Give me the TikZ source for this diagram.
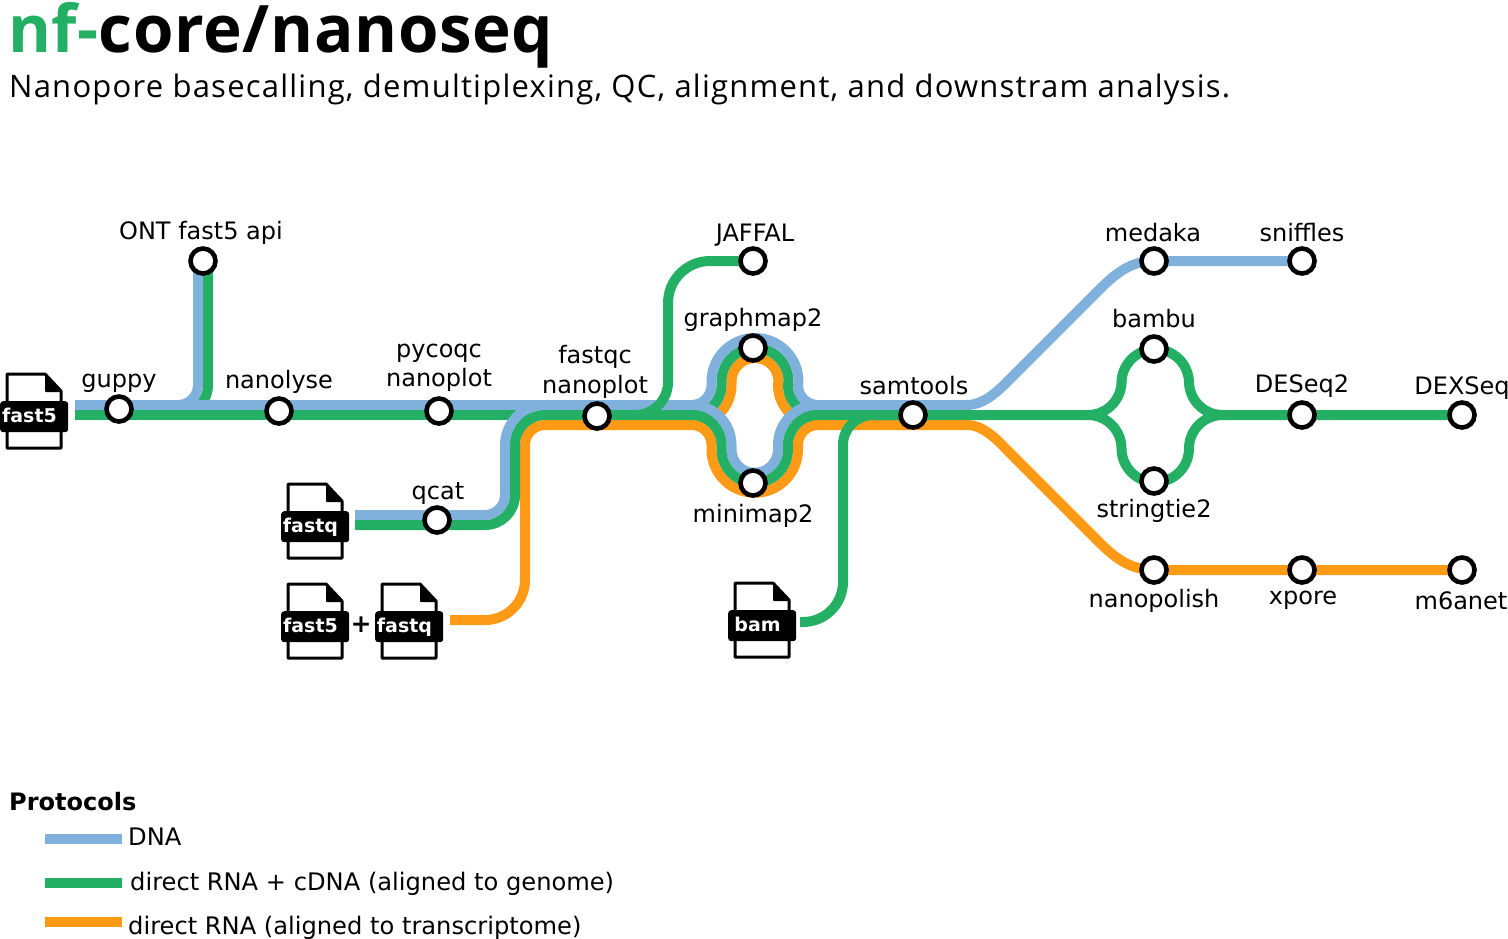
\documentclass[tikz,border=0pt]{standalone}
\usepackage{fontspec}
\setmainfont{DejaVu Sans}
\newfontfamily\titlefont[LetterSpace=1]{Open Sans}
\newfontfamily\subfont[LetterSpace=3.95]{Open Sans}
\definecolor{lblue}{HTML}{7FB1DC}
\definecolor{lgreen}{HTML}{24B064}
\definecolor{lorange}{HTML}{FF9A17}
\tikzset{
  route/.style={line width=10pt,line cap=butt,line join=round},
  blue route/.style={route,draw=lblue},
  green route/.style={route,draw=lgreen},
  orange route/.style={route,draw=lorange},
  station/.style={circle,draw=black,fill=white,line width=4.6pt,minimum size=25pt,inner sep=0pt},
  lab/.style={font=\fontsize{24}{29.5}\selectfont,align=center,inner sep=0pt,text=black},
  legendtext/.style={font=\fontsize{24.15}{29}\selectfont,anchor=west,inner sep=0pt,text=black},
  fileicon/.pic={
    \draw[line width=3pt,line join=round,fill=white] (7,-27) -- (45,-27) -- (61,-10) -- (61,47) -- (7,47) -- cycle;
    \fill[black,rounded corners=1pt] (45,-27) -- (62,-9) -- (45,-9) -- cycle;
    \node[fill=black,rounded corners=3pt,minimum width=68pt,minimum height=31pt,inner sep=0pt,anchor=north west] (-box) at (0,0) {};
    \node[anchor=base,inner sep=0pt,text=white,font=\fontsize{19}{19}\selectfont\bfseries] (-txt) at (29.5,21) {#1};
  }
}
\begin{document}
\begin{tikzpicture}[x=1pt,y=-1pt]
\useasboundingbox (0,0) rectangle (1508,938);
% title
\node[anchor=base west,inner sep=0pt,font=\fontsize{65.5}{66}\selectfont\titlefont\bfseries] (title) at (8,52) {\textcolor{lgreen}{nf-}core/nanoseq};
\node[anchor=base west,inner sep=0pt,font=\fontsize{31}{34}\selectfont\subfont] (subtitle) at (9,97) {Nanopore basecalling, demultiplexing, QC, alignment, and downstram analysis.};
% stations
\path
 (119,409) coordinate (guppy) (203,261) coordinate (ont) (279,411) coordinate (nanolyse) (439,411) coordinate (pycoqc)
 (597,416) coordinate (fastqc) (437,520) coordinate (qcat) (753,261) coordinate (jaffal) (753,348) coordinate (graphmap)
 (753,483) coordinate (minimap) (913,415) coordinate (samtools) (1154,261) coordinate (medaka) (1302,261) coordinate (sniffles)
 (1154,349) coordinate (bambu) (1154,481) coordinate (stringtie) (1302,415) coordinate (deseq) (1462,415) coordinate (dexseq)
 (1154,570) coordinate (nanopolish) (1302,570) coordinate (xpore) (1462,570) coordinate (msix);
% upper bypass
\draw[orange route] (691.5,425) arc[start angle=270,end angle=360,radius=40pt] -- (731.5,381.5) arc[start angle=180,end angle=0,radius=23.5pt] -- (778,385) arc[start angle=180,end angle=270,radius=40pt];
\draw[green route] (691.5,415) arc[start angle=270,end angle=360,radius=30pt] -- (721.5,381.5) arc[start angle=180,end angle=0,radius=33.5pt] -- (788,385) arc[start angle=180,end angle=270,radius=30pt];
\draw[blue route] (691.5,405) arc[start angle=270,end angle=360,radius=20pt] -- (711.5,381.5) arc[start angle=180,end angle=0,radius=43.5pt] -- (798,385) arc[start angle=180,end angle=270,radius=20pt];
% ONT branch
\draw[green route] (208,261) -- (208,385) arc[start angle=0,end angle=-90,radius=30pt];
\draw[blue route] (198,261) -- (198,385) arc[start angle=0,end angle=-90,radius=20pt];
% main line
\draw[green route] (75,415) -- (530,415);
\draw[blue route] (75,405) -- (545,405);
% long routes
\draw[orange route] (450,620) -- (485,620) arc[start angle=270,end angle=360,radius=40pt] -- (525,445) arc[start angle=180,end angle=90,radius=20pt] -- (691.5,425) arc[start angle=90,end angle=0,radius=20pt] -- (711.5,449.5) arc[start angle=180,end angle=360,radius=43.25pt] -- (798,445) arc[start angle=180,end angle=90,radius=20pt] -- (967,425) .. controls (985,425) and (1000,443) .. (1012,455) -- (1097,540) .. controls (1112,555) and (1128,570) .. (nanopolish) -- (msix);
\draw[blue route] (355,515) -- (485,515) arc[start angle=270,end angle=360,radius=20pt] -- (505,445) arc[start angle=180,end angle=90,radius=40pt] -- (691.5,405) arc[start angle=90,end angle=0,radius=40pt] -- (731.5,449.5) arc[start angle=180,end angle=360,radius=23.25pt] -- (778,445) arc[start angle=180,end angle=90,radius=40pt] -- (967,405) .. controls (985,405) and (1000,389) .. (1012,377) -- (1097,292) .. controls (1112,277) and (1128,261) .. (medaka) -- (sniffles);
\draw[green route] (355,525) -- (485,525) arc[start angle=270,end angle=360,radius=30pt] -- (515,445) arc[start angle=180,end angle=90,radius=30pt] -- (691.5,415) arc[start angle=90,end angle=0,radius=30pt] -- (721.5,449.5) arc[start angle=180,end angle=360,radius=33.25pt] -- (788,445) arc[start angle=180,end angle=90,radius=30pt] -- (1088,415);
% JAFFAL and bam
\draw[green route] (635,415) arc[start angle=270,end angle=360,radius=33pt] -- (668,303) arc[start angle=180,end angle=90,radius=42pt] -- (jaffal);
\draw[green route] (800,622) -- (803,622) arc[start angle=270,end angle=360,radius=40pt] -- (843,445) arc[start angle=180,end angle=90,radius=30pt] -- (samtools);
% bambu / stringtie
\draw[green route] (1088,415) arc[start angle=270,end angle=360,radius=33.5pt] -- (1121.5,383) arc[start angle=180,end angle=0,radius=33.75pt] -- (1189,381.5) arc[start angle=180,end angle=270,radius=33.5pt] -- (dexseq);
\draw[green route] (1088,415) arc[start angle=90,end angle=0,radius=33.5pt] -- (1121.5,448.5) arc[start angle=180,end angle=360,radius=33.75pt] arc[start angle=180,end angle=90,radius=33.5pt];
% station markers
\foreach \s in {guppy,ont,nanolyse,pycoqc,fastqc,qcat,jaffal,graphmap,minimap,samtools,medaka,sniffles,bambu,stringtie,deseq,dexseq,nanopolish,xpore,msix}
  \node[station] (st-\s) at (\s) {};
% station labels
\node[lab] (l1) at (119,383) {guppy};
\node[lab] (l2) at (201,233) {ONT fast5 api};
\node[lab] (l3) at (279,382) {nanolyse};
\node[lab] (l4) at (439,368) {pycoqc\\nanoplot};
\node[lab] (l5) at (595,372) {fastqc\\nanoplot};
\node[lab] (l6) at (438,494) {qcat};
\node[lab] (l7) at (755,235) {JAFFAL};
\node[lab] (l8) at (753,320) {graphmap2};
\node[lab] (l9) at (753,516) {minimap2};
\node[lab] (l10) at (914,386) {samtools};
\node[lab] (l11) at (1153,233) {medaka};
\node[lab] (l12) at (1302,233) {sniffles};
\node[lab] (l13) at (1154,319) {bambu};
\node[lab] (l14) at (1154,511) {stringtie2};
\node[lab] (l15) at (1302,386) {DESeq2};
\node[lab] (l16) at (1462,388) {DEXSeq};
\node[lab] (l17) at (1154,601) {nanopolish};
\node[lab] (l18) at (1303,600) {xpore};
\node[lab] (l19) at (1461,601) {m6anet};
% inputs
\pic (f1) at (0,401) {fileicon=fast5};
\pic (f2) at (281,511) {fileicon=fastq};
\pic (f3) at (281,611) {fileicon=fast5};
\pic (f4) at (375,611) {fileicon=fastq};
\pic (f5) at (728,610) {fileicon=bam};
\node[inner sep=0pt,font=\fontsize{25}{25}\selectfont\bfseries] (plus) at (361,625) {+};
% legend
\node[anchor=west,inner sep=0pt,font=\fontsize{24}{24}\selectfont\bfseries] (proto) at (9,802) {Protocols};
\coordinate (k1a) at (45,839); \coordinate (k1b) at (122,839);
\coordinate (k2a) at (45,883); \coordinate (k2b) at (122,883);
\coordinate (k3a) at (45,922); \coordinate (k3b) at (122,922);
\draw[blue route] (k1a) -- (k1b);
\draw[green route] (k2a) -- (k2b);
\draw[orange route] (k3a) -- (k3b);
\node[legendtext] (t1) at (128,837) {DNA};
\node[legendtext] (t2) at (130,884) {direct RNA + cDNA (aligned to genome)};
\node[legendtext] (t3) at (128,928) {direct RNA (aligned to transcriptome)};
\end{tikzpicture}
\end{document}
